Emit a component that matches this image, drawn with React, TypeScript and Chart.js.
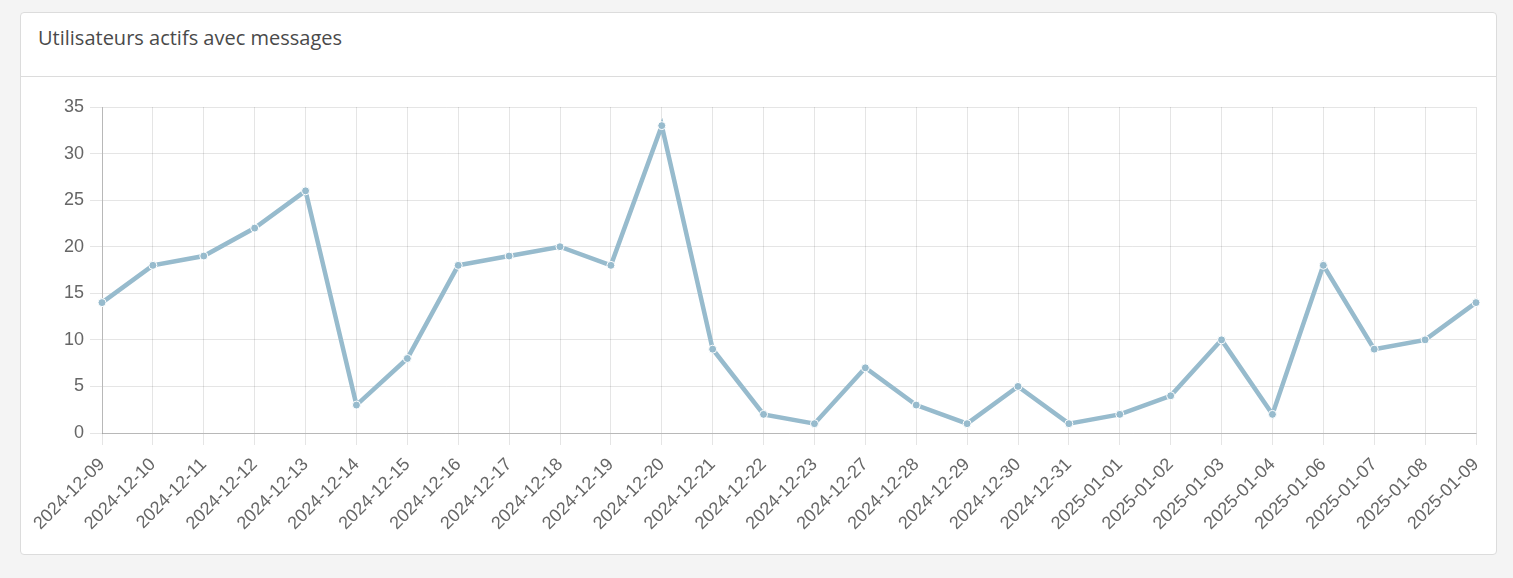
import React, { useEffect, useRef } from "react";
import { Chart, registerables } from "chart.js";

Chart.register(...registerables);

const TITLE = "Utilisateurs actifs avec messages";

const labels = [
  "2024-12-09", "2024-12-10", "2024-12-11", "2024-12-12", "2024-12-13", "2024-12-14",
  "2024-12-15", "2024-12-16", "2024-12-17", "2024-12-18", "2024-12-19", "2024-12-20",
  "2024-12-21", "2024-12-22", "2024-12-23", "2024-12-27", "2024-12-28", "2024-12-29",
  "2024-12-30", "2024-12-31", "2025-01-01", "2025-01-02", "2025-01-03", "2025-01-04",
  "2025-01-06", "2025-01-07", "2025-01-08", "2025-01-09",
];

const activeUsers = [
  14, 18, 19, 22, 26, 3,
  8, 18, 19, 20, 18, 33,
  9, 2, 1, 7, 3, 1,
  5, 1, 2, 4, 10, 2,
  18, 9, 10, 14,
];

const yMin = 0;
const yMax = 35;
const yStep = 5;

const LINE = "rgba(151,187,205,1)";
const TICK_FONT = { family: "'Liberation Sans', Arial, sans-serif", size: 18 };

export default function App() {
  const canvasRef = useRef<HTMLCanvasElement | null>(null);

  useEffect(() => {
    document.body.style.margin = "0";
    document.body.style.background = "#f4f4f4";
    const ctx = canvasRef.current;
    if (!ctx) return;
    const chart = new Chart(ctx, {
      type: "line",
      data: {
        labels,
        datasets: [
          {
            data: activeUsers,
            borderColor: LINE,
            backgroundColor: LINE,
            borderWidth: 4.5,
            pointRadius: 4,
            pointBorderColor: "#ffffff",
            pointBorderWidth: 1,
            pointBackgroundColor: LINE,
            fill: false,
            tension: 0,
          },
        ],
      },
      options: {
        animation: false,
        responsive: true,
        maintainAspectRatio: false,
        layout: { padding: { top: 30, right: 20, left: 0, bottom: 0 } },
        plugins: { legend: { display: false }, tooltip: { enabled: false } },
        scales: {
          x: {
            grid: { color: "rgba(0,0,0,0.1)", tickLength: 12 },
            border: { color: "rgba(0,0,0,0.2)" },
            ticks: {
              color: "#666",
              font: TICK_FONT,
              maxRotation: 45,
              minRotation: 45,
              autoSkip: false,
              padding: 9,
            },
            afterFit: (s: any) => {
              s.height = 120;
              s.paddingLeft = 0;
              s.paddingRight = 0;
            },
          },
          y: {
            min: yMin,
            max: yMax,
            grid: { color: "rgba(0,0,0,0.1)", tickLength: 12 },
            border: { color: "rgba(0,0,0,0.2)" },
            ticks: {
              stepSize: yStep,
              color: "#666",
              font: TICK_FONT,
              padding: 6,
            },
            afterFit: (s: any) => { s.width = 81; },
          },
        },
      },
    });
    return () => chart.destroy();
  }, []);

  return (
    <div
      style={{
        position: "absolute",
        left: 20,
        top: 12,
        width: 1477,
        height: 543,
        boxSizing: "border-box",
        background: "#fff",
        border: "1px solid #dcdcdc",
        borderRadius: 4,
      }}
    >
      <div
        style={{
          height: 64,
          boxSizing: "border-box",
          borderBottom: "1px solid #dcdcdc",
          padding: "11px 0 0 17px",
          fontFamily: "'Open Sans', sans-serif",
          fontSize: 20,
          color: "#4a4a4a",
        }}
      >
        {TITLE}
      </div>
      <div style={{ position: "relative", width: 1475, height: 476 }}>
        <canvas ref={canvasRef} />
      </div>
    </div>
  );
}
